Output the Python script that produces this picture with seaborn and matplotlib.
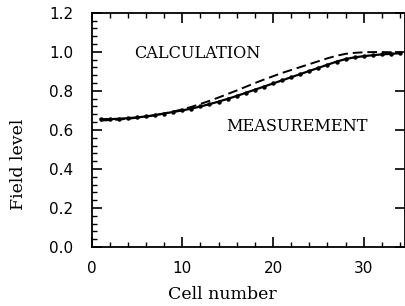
import matplotlib
matplotlib.use("Agg")
import matplotlib.pyplot as plt
import matplotlib.ticker as ticker
import numpy as np
import pandas as pd
import seaborn as sns

# data
cells = list(range(1, 35))
measurement = [0.655, 0.655, 0.657, 0.660, 0.664, 0.669, 0.676, 0.684, 0.692, 0.700,
               0.709, 0.720, 0.732, 0.745, 0.759, 0.774, 0.790, 0.806, 0.822, 0.838,
               0.854, 0.870, 0.886, 0.902, 0.918, 0.934, 0.950, 0.963, 0.972, 0.978,
               0.983, 0.987, 0.990, 0.993]
calculation = [0.648, 0.650, 0.653, 0.657, 0.662, 0.668, 0.675, 0.684, 0.694, 0.705,
               0.718, 0.733, 0.749, 0.766, 0.784, 0.802, 0.821, 0.840, 0.858, 0.875,
               0.892, 0.907, 0.922, 0.937, 0.952, 0.967, 0.980, 0.990, 0.995, 0.998,
               0.999, 0.999, 0.998, 0.997]

df = pd.DataFrame({"cell": cells, "meas": measurement, "calc": calculation})

sns.set_style("ticks")
plt.rcParams.update({"text.color": "black", "axes.labelcolor": "black",
                     "xtick.color": "black", "ytick.color": "black"})
SERIF = "DejaVu Serif"
SANS = "DejaVu Sans"

fig = plt.figure(figsize=(4.05, 3.06), dpi=100)
ax = fig.add_axes([0.226, 0.193, 0.773, 0.765])

sns.lineplot(data=df, x="cell", y="meas", ax=ax, color="black", lw=1.6,
             marker="o", markersize=3.2, markeredgewidth=0)
sns.lineplot(data=df, x="cell", y="calc", ax=ax, color="black", lw=1.4,
             linestyle=(0, (5, 2.5)))

ax.set_xlim(0, 34.5)
ax.set_ylim(0, 1.2)
ax.xaxis.set_major_locator(ticker.MultipleLocator(10))
ax.xaxis.set_minor_locator(ticker.MultipleLocator(2))
ax.yaxis.set_major_locator(ticker.MultipleLocator(0.2))
ax.yaxis.set_minor_locator(ticker.MultipleLocator(0.04))
ax.yaxis.set_major_formatter(ticker.FormatStrFormatter("%.1f"))

ax.tick_params(which="both", direction="in", top=True, right=True, color="black")
ax.tick_params(which="major", length=7, width=1.2, labelsize=11)
ax.tick_params(which="minor", length=3.5, width=1)
ax.tick_params(axis="x", which="major", pad=10)
ax.tick_params(axis="y", which="major", pad=13)
ax.tick_params(axis="y", which="minor", right=False)
for lab in ax.get_xticklabels() + ax.get_yticklabels():
    lab.set_family(SANS)

for s in ax.spines.values():
    s.set_linewidth(1.3)
    s.set_color("black")

ax.set_xlabel("Cell number", family=SERIF, fontsize=12.5)
ax.set_ylabel("Field level", family=SERIF, fontsize=12.5)
# the labels in the reference sit off-centre
ax.xaxis.set_label_coords(0.419, -0.168)
ax.yaxis.set_label_coords(-0.205, 0.355)

ax.text(4.7, 0.99, "CALCULATION", family=SERIF, fontsize=11.6, va="center", ha="left")
ax.text(14.8, 0.618, "MEASUREMENT", family=SERIF, fontsize=11.6, va="center", ha="left")

fig.savefig("out.png", dpi=100)
